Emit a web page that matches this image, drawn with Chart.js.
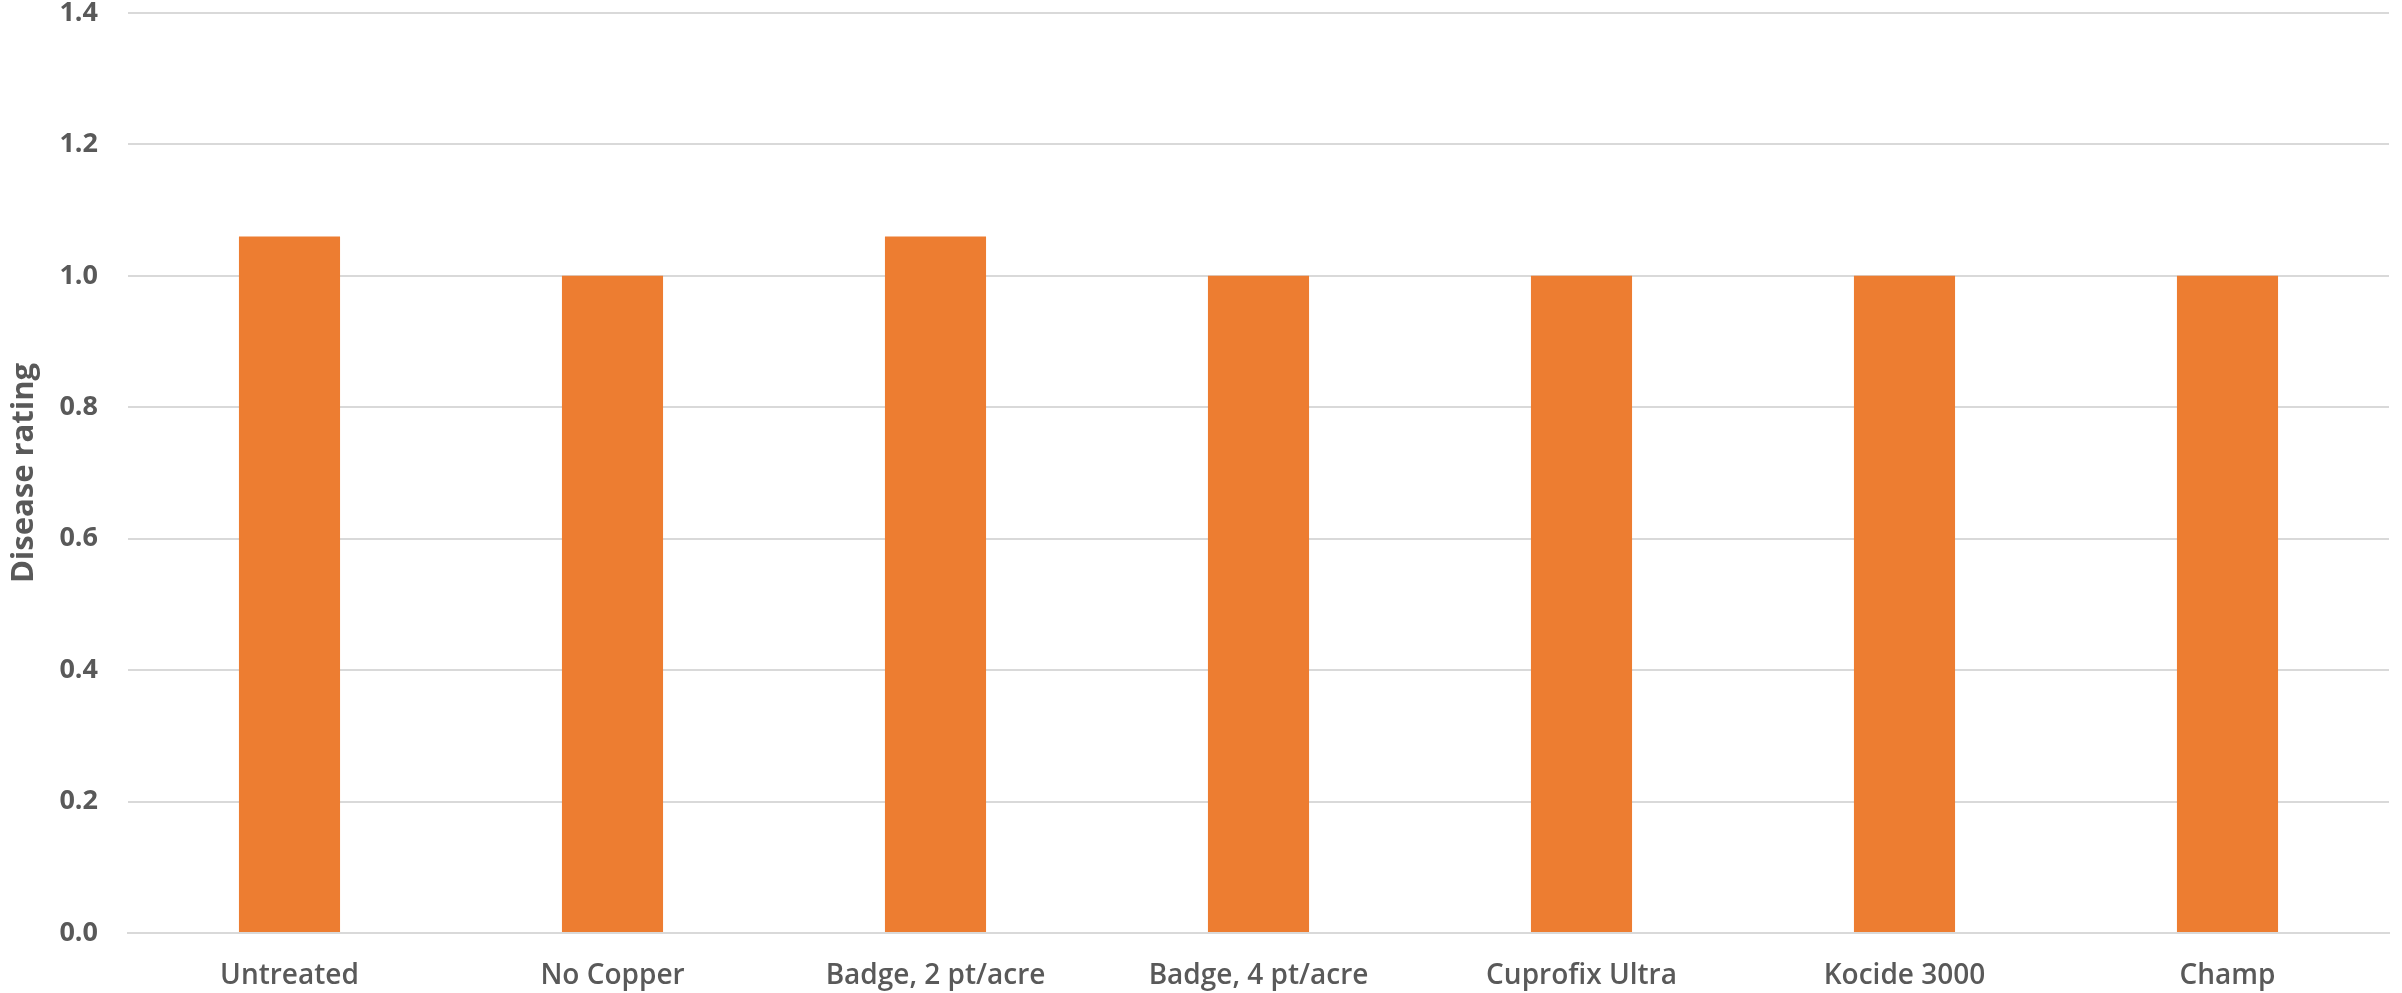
<!DOCTYPE html>
<html>
<head>
<meta charset="utf-8">
<script src="https://cdn.jsdelivr.net/npm/chart.js@4"></script>
<style>
    html, body { margin: 0; padding: 0; background: #fff; }
    #wrap { width: 2402px; height: 993px; }
</style>
</head>
<body>
<div id="wrap"><canvas id="ratingChart" width="2402" height="993"></canvas></div>
<script>
// Chart data
const treatments = ['Untreated', 'No Copper', 'Badge, 2 pt/acre', 'Badge, 4 pt/acre', 'Cuprofix Ultra', 'Kocide 3000', 'Champ'];
const diseaseRating = [1.06, 1.0, 1.06, 1.0, 1.0, 1.0, 1.0];
const yTicks = [0, 0.2, 0.4, 0.6, 0.8, 1.0, 1.2, 1.4];

const textColor = '#595959';
const gridColor = '#d9d9d9';

function initializeChart() {
    const ctx = document.getElementById('ratingChart').getContext('2d');
    new Chart(ctx, {
        type: 'bar',
        data: {
            labels: treatments,
            datasets: [{
                label: 'Disease rating',
                data: diseaseRating,
                backgroundColor: '#ED7D31',
                borderWidth: 0,
                categoryPercentage: 1,
                barPercentage: 0.313
            }]
        },
        options: {
            responsive: false,
            animation: false,
            layout: { padding: { left: 0, right: 13, top: 13, bottom: 0 } },
            plugins: {
                legend: { display: false },
                tooltip: { enabled: false }
            },
            scales: {
                x: {
                    grid: { display: false, drawTicks: false },
                    border: { color: gridColor, width: 2 },
                    ticks: {
                        color: textColor,
                        padding: 26,
                        maxRotation: 0,
                        font: { family: 'Open Sans', size: 28, weight: '600' }
                    },
                    afterFit: (scale) => {
                        scale.height = 60;
                        scale.paddingLeft = 0;
                        scale.paddingRight = 0;
                    }
                },
                y: {
                    min: 0,
                    max: 1.4,
                    afterBuildTicks: (scale) => {
                        scale.ticks = yTicks.map(v => ({ value: v }));
                    },
                    grid: { color: gridColor, lineWidth: 2, drawTicks: false },
                    border: { display: false },
                    ticks: {
                        color: textColor,
                        padding: 30,
                        font: { family: 'Open Sans', size: 27, weight: '700' },
                        callback: (v) => Number(v).toFixed(1)
                    },
                    title: {
                        display: true,
                        text: 'Disease rating',
                        color: textColor,
                        padding: { top: 6, bottom: 0 },
                        font: { family: 'Open Sans', size: 31, weight: '700' }
                    },
                    afterFit: (scale) => {
                        scale.width = 128;
                        scale.paddingTop = 0;
                        scale.paddingBottom = 0;
                    }
                }
            }
        }
    });
}

document.addEventListener('DOMContentLoaded', initializeChart);
</script>
</body>
</html>
